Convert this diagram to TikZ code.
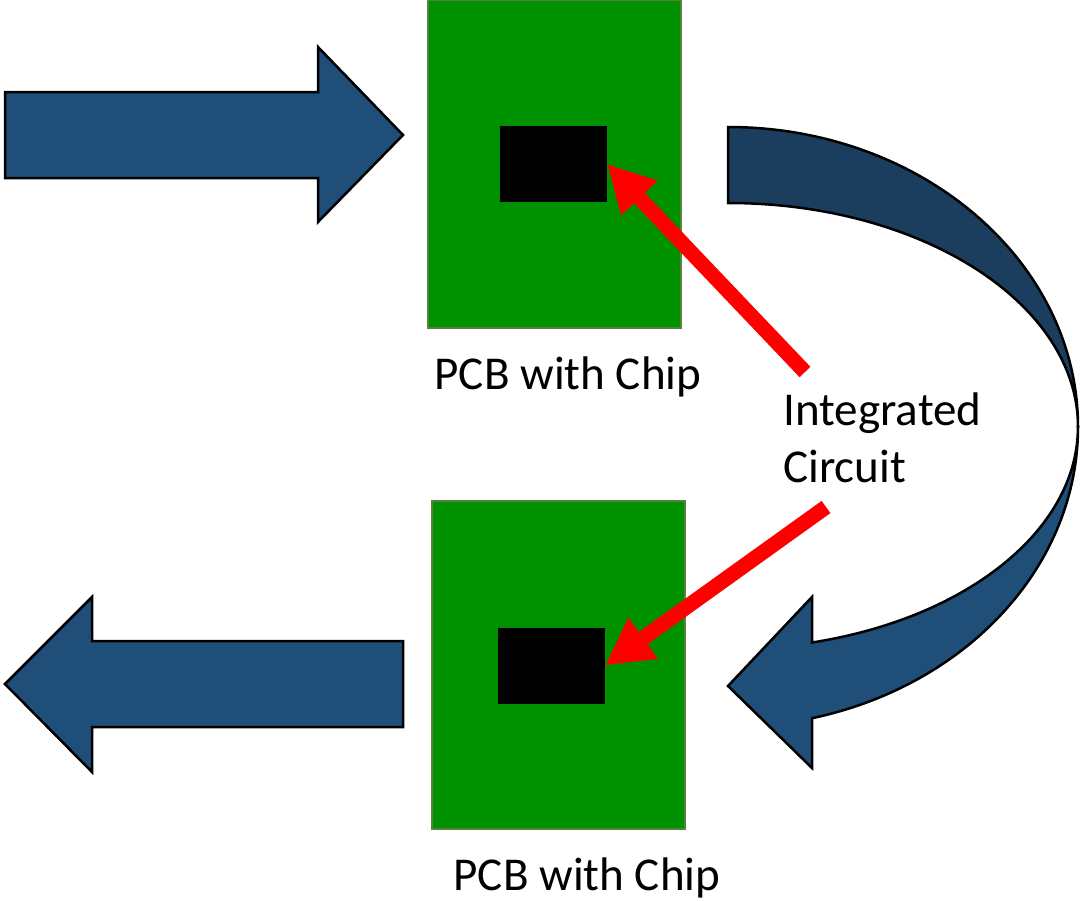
\documentclass[tikz,border=0pt]{standalone}
\usepackage{fontspec}
\setmainfont{Carlito}
\usetikzlibrary{arrows.meta}
\newdimen\U
\U=0.025cm
\definecolor{pcbgreen}{RGB}{0,145,0}
\definecolor{pcbedge}{RGB}{88,130,60}
\definecolor{arrowblue}{RGB}{31,78,121}
\definecolor{arrowdark}{RGB}{27,61,94}
\tikzset{
  pcb/.style={
    draw=pcbedge, line width=2\U,
    fill=pcbgreen,
    minimum width=253\U, minimum height=328\U,
    inner sep=0, outer sep=0
  },
  chip/.style={
    fill=black,
    minimum width=107\U, minimum height=76\U,
    inner sep=0, outer sep=0
  },
  bigarrow/.style={draw=black, line width=2.5\U, fill=arrowblue, line join=miter},
  pointer/.style={draw=red, line width=0.375cm, -{Triangle[length=1.175cm,width=1.175cm]}},
  caption/.style={font=\fontsize{33.5}{40.4}\selectfont, inner sep=0, align=left}
}
\begin{document}
\begin{tikzpicture}[x=\U,y=\U]
\useasboundingbox (0,0) rectangle (1081,-902);

%%% arrow in
\filldraw[bigarrow] (5,-92) -- (318,-92) -- (318,-47) -- (403,-135)
   -- (318,-222) -- (318,-178) -- (5,-178) -- cycle;
%%% arrow out
\filldraw[bigarrow] (403,-641) -- (92,-641) -- (92,-597) -- (5,-684)
   -- (92,-772) -- (92,-727) -- (403,-727) -- cycle;

%%% curved arrow, back side
\filldraw[bigarrow, fill=arrowdark] (728,-127)
   arc[start angle=90, end angle=0, x radius=350, y radius=300]
   arc[start angle=0, end angle=90, x radius=350, y radius=224] -- cycle;
%%% curved arrow, front side
\filldraw[bigarrow] (1078,-427)
   arc[start angle=0, end angle=-76.1, x radius=350, y radius=300]
   -- (812,-768) -- (728,-686) -- (812,-597) -- (812,-642.5)
   arc[start angle=-76.1, end angle=0, x radius=350, y radius=222] -- cycle;

%%% boards
\node[pcb] (pcb1) at (554.5,-164) {};
\node[pcb] (pcb2) at (558,-665) {};
\node[chip] (chip1) at (553.5,-164) {};
\node[chip] (chip2) at (551.5,-665.5) {};

%%% labels
\node[caption, anchor=base] (cap1) at (568,-389) {PCB with Chip};
\node[caption, anchor=base] (cap2) at (587,-890) {PCB with Chip};
\node[caption, anchor=base west] (ic) at (783,-482) {Integrated\\Circuit};

%%% pointers
\coordinate (icup) at (805,-372);
\coordinate (icdown) at (826,-507);
\draw[pointer] (icup) -- (chip1.east);
\draw[pointer] (icdown) -- (chip2.east);

\end{tikzpicture}
\end{document}
